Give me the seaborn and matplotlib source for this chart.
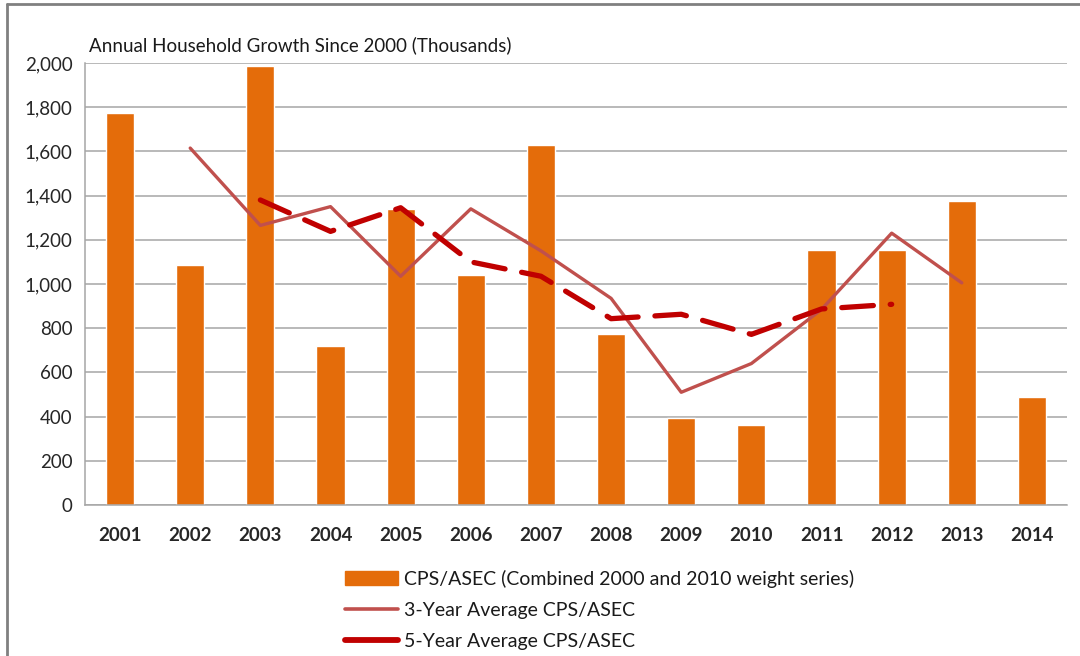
import matplotlib
matplotlib.use("Agg")
import matplotlib.pyplot as plt
import seaborn as sns
import pandas as pd
import numpy as np
from matplotlib.lines import Line2D
from matplotlib.patches import Patch

years = ["2001", "2002", "2003", "2004", "2005", "2006", "2007",
         "2008", "2009", "2010", "2011", "2012", "2013", "2014"]
cps_asec = [1775, 1085, 1985, 720, 1340, 1040, 1630, 775, 395, 360, 1155, 1155, 1375, 490]
avg3_years = ["2002", "2003", "2004", "2005", "2006", "2007", "2008",
              "2009", "2010", "2011", "2012", "2013"]
avg3 = [1615, 1265, 1350, 1035, 1340, 1150, 935, 510, 640, 885, 1230, 1005]
avg5_years = ["2003", "2004", "2005", "2006", "2007", "2008", "2009",
              "2010", "2011", "2012"]
avg5 = [1380, 1238, 1345, 1100, 1035, 843, 863, 772, 887, 908]

title = "Annual Household Growth Since 2000 (Thousands)"
labels = ["CPS/ASEC (Combined 2000 and 2010 weight series)",
          "3-Year Average CPS/ASEC",
          "5-Year Average CPS/ASEC"]

sns.set_style("white")
plt.rcParams["font.family"] = ["Lato", "DejaVu Sans"]

bar_color = "#E46C0A"
c3 = "#C0504D"
c5 = "#C00000"

df = pd.DataFrame({"year": years, "value": cps_asec})
pos = {y: i for i, y in enumerate(years)}
df3 = pd.DataFrame({"x": [pos[y] for y in avg3_years], "v": avg3})
df5 = pd.DataFrame({"x": [pos[y] for y in avg5_years], "v": avg5})

fig = plt.figure(figsize=(10.8, 6.56), dpi=100)
ax = fig.add_axes([0.0787, 0.2302, 0.9093, 0.6738])

sns.barplot(data=df, x="year", y="value", color=bar_color, width=0.4,
            saturation=1, ax=ax, zorder=2)
sns.lineplot(data=df3, x="x", y="v", color=c3, linewidth=2.4, ax=ax, zorder=3)
sns.lineplot(data=df5, x="x", y="v", color=c5, linewidth=3.8, ax=ax, zorder=4,
             dashes=False)
line5 = ax.get_lines()[-1]
line5.set_dashes([6, 3.2])
line5.set_dash_capstyle("round")
ax.get_lines()[-2].set_solid_capstyle("round")

ax.set_xlim(-0.5, len(years) - 0.5)
ax.set_ylim(0, 2000)
ax.set_yticks(np.arange(0, 2001, 200))
ax.set_yticklabels([f"{v:,}" for v in range(0, 2001, 200)], fontsize=13.5)
ax.yaxis.grid(True, color="#A6A6A6", linewidth=1.1, zorder=0)
ax.set_axisbelow(True)
ax.set_xlabel("")
ax.set_ylabel("")
for lab in ax.get_xticklabels():
    lab.set_fontweight("bold")
    lab.set_fontsize(13.5)
ax.tick_params(axis="x", length=0, pad=16)
ax.tick_params(axis="y", length=0, pad=9)
# minor ticks between categories
ax.set_xticks(np.arange(-0.5, len(years), 1), minor=True)
ax.tick_params(axis="x", which="minor", length=7, color="#A6A6A6", width=1.1,
               direction="out")
for s in ["top", "right"]:
    ax.spines[s].set_visible(False)
for s in ["left", "bottom"]:
    ax.spines[s].set_color("#A6A6A6")
    ax.spines[s].set_linewidth(1.1)

fig.text(0.0825, 0.931, title, fontsize=13.5, ha="left", va="center", color="#1a1a1a")

handles = [Patch(facecolor=bar_color, edgecolor=bar_color),
           Line2D([], [], color=c3, linewidth=2.6, solid_capstyle="round"),
           Line2D([], [], color=c5, linewidth=4.2, solid_capstyle="round")]
leg = fig.legend(handles, labels, loc="upper left", bbox_to_anchor=(0.312, 0.143),
                 frameon=False, fontsize=14, handlelength=2.75, handleheight=0.75,
                 labelspacing=0.72, handletextpad=0.3, borderaxespad=0)
for t in leg.get_texts():
    t.set_color("#1a1a1a")

# outer frame lines
fig.add_artist(Line2D([0.0065, 0.0065], [0, 0.994], color="#808080", linewidth=2,
                      transform=fig.transFigure))
fig.add_artist(Line2D([0.0065, 1.0], [0.994, 0.994], color="#808080", linewidth=2,
                      transform=fig.transFigure))

fig.savefig("out.png", dpi=100, facecolor="white")
